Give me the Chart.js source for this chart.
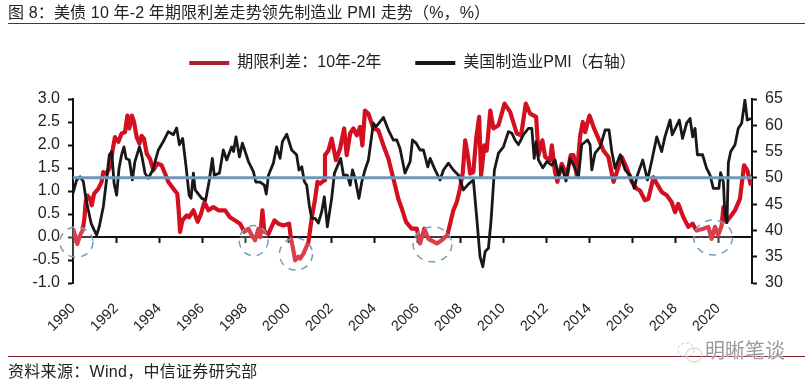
<!DOCTYPE html>
<html lang="zh">
<head>
<meta charset="utf-8">
<title>美债 10 年-2 年期限利差走势领先制造业 PMI 走势</title>
<script src="https://cdn.jsdelivr.net/npm/chart.js@4/dist/chart.umd.min.js"></script>
<style>
html,body{margin:0;padding:0;background:#fff;width:811px;height:387px;overflow:hidden}
#wrap{position:relative;width:811px;height:387px;font-family:"Liberation Sans","Noto Sans CJK SC",sans-serif;color:#222}
canvas{position:absolute;left:0;top:0}
.txt{position:absolute;white-space:nowrap;font-size:16px;line-height:20px}
.rule{position:absolute;left:8px;width:797px;height:1px;background:#7d1f25}
#wm{position:absolute;left:705px;top:339px;font-size:20px;line-height:24px;color:#9a9a9a;white-space:nowrap;text-shadow:0 0 2px #fff,0 0 2px #fff}
#ic{position:absolute;left:676px;top:340px}
</style>
</head>
<body>
<div id="wrap">
<canvas id="c" width="811" height="387"></canvas>
<div class="txt" style="left:8px;top:3px;letter-spacing:0.15px">图 8：美债 10 年-2 年期限利差走势领先制造业 PMI 走势（%，%）</div>
<div class="rule" style="top:23px"></div>
<div class="rule" style="top:356px"></div>
<svg id="ic" width="28" height="24" viewBox="0 0 28 24" fill="none" stroke="#c8c8c8" stroke-width="1"><ellipse cx="10" cy="10" rx="8" ry="7" stroke-dasharray="3 2"/><ellipse cx="18" cy="15" rx="8" ry="7"/></svg>
<div id="wm">明晰笔谈</div>
<div class="txt" style="left:8px;top:362px;letter-spacing:0.3px">资料来源：Wind，中信证券研究部</div>
</div>
<script>
const spreadYears=[1990.00,1990.09,1990.20,1990.33,1990.45,1990.53,1990.59,1990.67,1990.79,1990.87,1990.98,1991.18,1991.33,1991.41,1991.57,1991.72,1991.84,1991.95,1992.11,1992.26,1992.42,1992.53,1992.62,1992.74,1992.84,1992.96,1993.09,1993.19,1993.30,1993.43,1993.58,1993.74,1993.92,1994.12,1994.28,1994.43,1994.67,1994.85,1994.91,1994.98,1995.09,1995.29,1995.40,1995.60,1995.80,1995.95,1996.11,1996.30,1996.53,1996.76,1997.07,1997.30,1997.54,1997.77,1997.97,1998.16,1998.31,1998.47,1998.62,1998.71,1998.81,1998.90,1999.09,1999.37,1999.55,1999.78,2000.05,2000.14,2000.25,2000.33,2000.48,2000.56,2000.72,2000.95,2001.10,2001.26,2001.37,2001.49,2001.68,2001.72,2001.88,2002.03,2002.23,2002.42,2002.61,2002.73,2002.89,2003.04,2003.20,2003.35,2003.46,2003.58,2003.74,2003.97,2004.20,2004.44,2004.67,2004.90,2005.13,2005.29,2005.49,2005.75,2005.99,2006.14,2006.34,2006.53,2006.92,2007.15,2007.41,2007.54,2007.69,2007.85,2008.00,2008.13,2008.24,2008.36,2008.47,2008.62,2008.75,2008.89,2008.98,2009.13,2009.24,2009.41,2009.55,2009.79,2010.07,2010.33,2010.64,2010.84,2011.06,2011.26,2011.54,2011.65,2011.83,2011.96,2012.19,2012.27,2012.42,2012.53,2012.73,2012.97,2013.15,2013.28,2013.43,2013.59,2013.71,2013.82,2014.02,2014.21,2014.44,2014.67,2014.90,2015.14,2015.32,2015.52,2015.76,2015.99,2016.22,2016.37,2016.60,2016.76,2017.00,2017.15,2017.38,2017.61,2017.84,2018.00,2018.15,2018.39,2018.62,2018.82,2019.00,2019.32,2019.55,2019.70,2019.86,2020.01,2020.17,2020.25,2020.37,2020.56,2020.79,2021.02,2021.21,2021.36,2021.53];
const spreadValues=[0.18,0.04,-0.15,0.04,0.15,0.40,0.76,0.90,0.83,0.69,0.94,1.05,1.20,1.41,1.38,1.52,1.88,2.17,2.07,2.25,2.28,2.64,2.36,2.64,2.50,2.17,2.03,2.20,2.14,1.81,1.70,1.45,1.60,1.56,1.38,1.20,1.05,0.94,0.62,0.11,0.36,0.47,0.43,0.58,0.33,0.50,0.76,0.58,0.65,0.58,0.58,0.43,0.36,0.29,0.11,0.18,0.04,-0.07,0.18,0.00,0.58,0.11,0.07,0.36,0.29,0.25,0.29,-0.04,-0.29,-0.51,-0.43,-0.47,-0.36,-0.11,0.40,0.83,1.20,1.16,1.23,1.78,1.88,2.14,1.67,1.92,2.36,1.78,2.25,2.36,2.21,2.39,1.99,2.75,2.68,2.36,2.32,1.99,1.70,1.27,0.83,0.62,0.33,0.18,0.18,-0.14,0.18,-0.04,-0.14,-0.07,0.04,0.29,0.58,0.76,1.05,1.41,2.10,1.78,1.38,1.41,2.14,2.61,1.34,1.99,1.88,2.75,2.36,2.43,2.90,2.72,2.25,2.21,2.90,2.68,2.61,1.78,2.10,1.74,1.67,1.99,1.41,1.20,1.59,1.34,1.78,1.78,1.34,2.21,2.50,2.28,2.64,2.39,2.14,1.88,1.74,1.20,1.45,1.74,1.49,1.20,1.05,1.01,0.80,0.83,1.30,1.16,0.98,0.91,0.76,0.54,0.72,0.43,0.22,0.29,0.14,0.18,0.22,-0.04,0.22,0.04,0.25,0.65,0.33,0.43,0.58,0.83,1.56,1.45,1.12];
const pmiYears=[1990.00,1990.17,1990.33,1990.48,1990.60,1990.71,1990.84,1990.98,1991.10,1991.22,1991.41,1991.53,1991.69,1991.80,1991.91,1992.03,1992.14,1992.26,1992.37,1992.47,1992.62,1992.76,1992.88,1993.09,1993.19,1993.35,1993.50,1993.71,1993.97,1994.20,1994.43,1994.67,1994.82,1994.95,1995.10,1995.26,1995.40,1995.49,1995.60,1995.68,1995.99,1996.17,1996.33,1996.48,1996.57,1996.81,1996.99,1997.15,1997.38,1997.47,1997.58,1997.74,1997.88,1998.16,1998.39,1998.50,1998.70,1998.90,1998.99,1999.09,1999.32,1999.47,1999.63,1999.74,1999.94,2000.17,2000.40,2000.51,2000.64,2000.76,2000.87,2000.99,2001.10,2001.26,2001.41,2001.57,2001.69,2001.83,2002.03,2002.16,2002.45,2002.58,2002.76,2002.89,2003.00,2003.12,2003.30,2003.43,2003.58,2003.74,2003.97,2004.09,2004.44,2004.67,2004.90,2005.06,2005.21,2005.44,2005.68,2005.79,2005.96,2006.14,2006.30,2006.50,2006.61,2006.84,2007.07,2007.23,2007.46,2007.69,2007.93,2008.16,2008.39,2008.62,2008.78,2008.93,2009.06,2009.17,2009.32,2009.44,2009.60,2009.79,2010.02,2010.25,2010.41,2010.56,2010.72,2010.95,2011.18,2011.34,2011.45,2011.54,2011.65,2011.85,2012.04,2012.27,2012.42,2012.58,2012.73,2012.93,2013.12,2013.28,2013.51,2013.66,2013.93,2014.05,2014.13,2014.28,2014.52,2014.75,2014.93,2015.06,2015.21,2015.45,2015.68,2015.91,2016.10,2016.25,2016.50,2016.72,2016.91,2017.15,2017.38,2017.53,2017.77,2017.87,2018.20,2018.35,2018.54,2018.70,2018.82,2018.93,2019.04,2019.28,2019.47,2019.63,2019.78,2020.04,2020.12,2020.25,2020.32,2020.42,2020.48,2020.59,2020.79,2020.94,2021.10,2021.25,2021.36,2021.53];
const pmiValues=[47.1,49.6,50.2,49.3,46.1,43.9,41.4,40.1,39.1,40.7,44.5,48.6,54.4,55.0,49.0,46.7,51.8,54.4,55.9,53.7,53.4,49.6,53.1,55.9,54.4,50.9,49.9,51.5,55.3,56.9,58.8,58.2,59.5,56.3,57.5,52.1,46.7,46.1,50.9,47.7,46.1,45.8,49.3,53.7,50.5,50.9,55.3,53.4,55.9,55.0,57.8,54.0,56.6,53.1,51.2,49.2,49.2,48.6,46.9,50.5,52.8,55.9,53.7,56.9,58.3,55.3,54.4,51.5,52.1,49.3,48.6,44.8,42.3,42.3,41.4,43.6,46.4,40.7,46.1,50.9,53.7,50.5,50.5,48.6,51.5,49.9,46.1,49.2,51.5,53.4,60.4,59.7,61.5,59.1,57.2,57.2,55.6,50.9,53.1,57.2,56.6,55.3,55.3,52.1,53.7,51.5,49.6,51.5,52.8,51.5,50.5,47.7,48.8,49.6,42.3,35.0,33.1,36.0,36.6,41.7,51.5,54.7,55.9,58.8,58.5,57.2,56.3,58.2,59.4,59.4,53.7,56.9,53.4,51.9,53.1,52.4,53.4,50.5,52.1,49.4,53.7,52.4,50.2,56.3,57.2,56.3,51.5,54.7,55.9,59.1,59.1,55.0,51.8,54.4,51.5,50.5,48.0,50.5,53.4,49.6,53.1,57.8,55.0,57.8,61.0,58.2,61.0,57.5,60.4,61.3,57.8,59.4,54.4,54.4,51.8,50.5,48.0,48.0,51.0,49.2,42.9,41.5,52.8,55.0,56.3,59.4,60.4,64.8,61.0,61.3];
const baselineYears=[1990,2021.58];
const baselineValues=[50,50];
const spreadName="期限利差：10年-2年";
const pmiName="美国制造业PMI（右轴）";
const circleYears=[1990.16,1998.40,2000.37,2006.72,2019.77];
const circleValues=[-0.11,-0.08,-0.37,-0.16,-0.01];
const circleHalfYears=[0.77,0.67,0.77,0.90,0.90];
const circleHalfValues=[0.33,0.33,0.35,0.38,0.38];

const pts=(xs,ys)=>xs.map((x,i)=>({x,y:ys[i]}));
const FONT='"Liberation Sans","Noto Sans CJK SC",sans-serif';
const INK='#111';

const circles={
  id:'circles',
  afterDatasetsDraw(chart){
    const {ctx,scales:{x,y}}=chart;
    ctx.save();
    circleYears.forEach((yr,i)=>{
      const cx=x.getPixelForValue(yr), cy=y.getPixelForValue(circleValues[i]);
      const rx=Math.abs(x.getPixelForValue(yr+circleHalfYears[i])-cx);
      const ry=Math.abs(y.getPixelForValue(circleValues[i]+circleHalfValues[i])-cy);
      ctx.beginPath();ctx.ellipse(cx,cy,rx,ry,0,0,Math.PI*2);
      ctx.fillStyle='rgba(255,255,255,0.2)';ctx.fill();
      ctx.setLineDash([7,6]);ctx.lineWidth=1.5;ctx.strokeStyle='#739db9';ctx.stroke();
    });
    ctx.restore();
  }
};
const legendBox={
  id:'legendBox',
  beforeLayout(chart){
    const l=chart.legend;
    if(l&&!l._patched){const f=l.fit;l.fit=function(){f.call(this);this.height=78;};l._patched=true;}
  },
  afterLayout(chart){chart.legend.left+=14;}
};

new Chart(document.getElementById('c'),{
  type:'line',
  data:{datasets:[
    {label:spreadName,data:pts(spreadYears,spreadValues),borderColor:'#d30f20',backgroundColor:'#ad1f2c',borderWidth:4.2,borderJoinStyle:'round',pointRadius:0,tension:0,yAxisID:'y',xAxisID:'x',order:3},
    {label:pmiName,data:pts(pmiYears,pmiValues),borderColor:'#1c1717',backgroundColor:'#1c1717',borderWidth:2.8,borderJoinStyle:'round',pointRadius:0,tension:0,yAxisID:'y2',xAxisID:'x',order:2},
    {label:'50',data:pts(baselineYears,baselineValues),borderColor:'#6d98ba',backgroundColor:'#6d98ba',borderWidth:3,pointRadius:0,tension:0,yAxisID:'y2',xAxisID:'x',order:1}
  ]},
  plugins:[circles,legendBox],
  options:{
    responsive:false,animation:false,
    layout:{padding:{top:21,left:0,right:0,bottom:0}},
    plugins:{
      tooltip:{enabled:false},
      legend:{display:true,position:'top',
        labels:{boxWidth:40,boxHeight:4,padding:34,color:'#222',font:{family:FONT,size:16},
          filter:i=>i.datasetIndex!==2,
          sort:(a,b)=>a.datasetIndex-b.datasetIndex,
          generateLabels:c=>Chart.defaults.plugins.legend.labels.generateLabels(c).map(i=>({...i,lineWidth:0}))}}
    },
    scales:{
      x:{type:'linear',min:1990,max:2021.58,position:{y:0},
        border:{color:INK,width:2},
        grid:{display:true,drawOnChartArea:false,drawTicks:true,tickLength:5,tickWidth:2,tickColor:INK},
        ticks:{stepSize:2,includeBounds:false,display:false,autoSkip:false}},
      x2:{type:'linear',min:1990,max:2021.58,position:'bottom',
        border:{display:false},grid:{display:false},
        ticks:{stepSize:2,includeBounds:false,autoSkip:false,minRotation:45,maxRotation:45,padding:9,color:'#222',font:{family:FONT,size:14.5},callback:v=>String(v)},
        afterFit(s){s.height=104;}},
      y:{type:'linear',position:'left',min:-1,max:3,
        border:{color:INK,width:2},
        grid:{display:true,drawOnChartArea:false,tickLength:5,tickWidth:2,tickColor:INK},
        ticks:{stepSize:0.5,padding:8,color:'#222',font:{family:FONT,size:16},callback:v=>v.toFixed(1)},
        afterFit(s){s.width=73;}},
      y2:{type:'linear',position:'right',min:30,max:65,
        border:{color:INK,width:2},
        grid:{display:true,drawOnChartArea:false,tickLength:5,tickWidth:2,tickColor:INK},
        ticks:{stepSize:5,padding:8,color:'#222',font:{family:FONT,size:16},callback:v=>String(v)},
        afterFit(s){s.width=59;}}
    }
  }
});
</script>
</body>
</html>
